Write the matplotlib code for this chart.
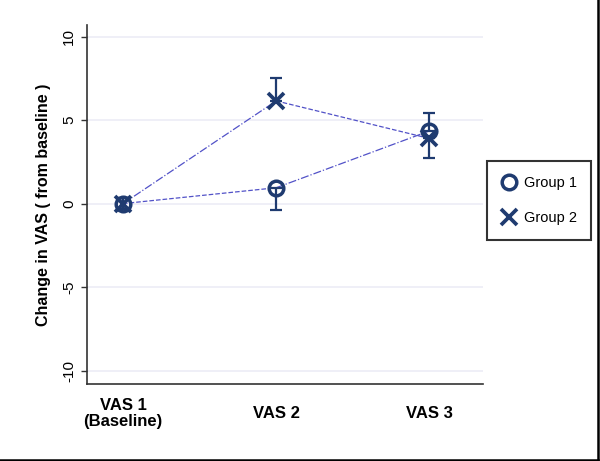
import matplotlib.pyplot as plt
from matplotlib.lines import Line2D
import numpy as np

plt.rcParams['font.family'] = ['Liberation Sans', 'DejaVu Sans']

# data
visits = ['VAS 1\n(Baseline)', 'VAS 2', 'VAS 3']
group1 = [0.0, 0.95, 4.35]
group2 = [0.0, 6.15, 3.9]
# one-sided error bars as drawn in the picture
g1_err_low = [0.35, 1.35, 0.0]
g1_err_high = [0.35, 0.0, 1.1]
g2_err_low = [0.35, 0.0, 1.15]
g2_err_high = [0.35, 1.35, 0.0]
g1_styles = ['--', '-.']
g2_styles = ['-.', '--']
yticks = [-10, -5, 0, 5, 10]

navy = '#1f3b70'
linec = '#5252c8'

fig = plt.figure(figsize=(6, 4.61), dpi=100)
ax = fig.add_axes([0.145, 0.167, 0.66, 0.779])
x = np.arange(1, len(visits) + 1)

# connecting lines, segment by segment
for vals, styles in [(group1, g1_styles), (group2, g2_styles)]:
    for i, ls in enumerate(styles):
        ax.plot(x[i:i + 2], vals[i:i + 2], ls=ls, color=linec, lw=0.9, zorder=2)

ax.errorbar(x, group1, yerr=[g1_err_low, g1_err_high], fmt='none', ecolor=navy,
            elinewidth=1.6, capsize=4, capthick=1.6, zorder=3)
ax.errorbar(x, group2, yerr=[g2_err_low, g2_err_high], fmt='none', ecolor=navy,
            elinewidth=1.6, capsize=4, capthick=1.6, zorder=3)
ax.plot(x, group1, 'o', ms=10.5, mfc='none', mec=navy, mew=2.5, zorder=4, label='Group 1')
ax.plot(x, group2, 'x', ms=11.5, mec=navy, mew=2.7, zorder=4, label='Group 2')

ax.set_xlim(0.765, 3.35)
ax.set_ylim(-10.8, 10.7)
ax.set_yticks(yticks)
ax.set_yticklabels([str(t) for t in yticks], rotation=90, va='center', fontsize=11)
ax.set_xticks(x)
ax.set_xticklabels(visits, fontsize=12, fontweight='bold', va='center', linespacing=1.1)
ax.tick_params(axis='x', length=0, pad=21)
ax.tick_params(axis='y', length=4, width=1, color='#333333', pad=4)
ax.yaxis.grid(True, color='#ececf6', lw=1.2)
ax.set_axisbelow(True)
for s in ['top', 'right']:
    ax.spines[s].set_visible(False)
for s in ['left', 'bottom']:
    ax.spines[s].set_color('#333333')
    ax.spines[s].set_linewidth(1.2)
ax.set_ylabel('Change in VAS ( from baseline )', fontsize=11.5, fontweight='bold', labelpad=8)

leg = ax.legend(loc='center', bbox_to_anchor=(0.899, 0.565), bbox_transform=fig.transFigure,
                fancybox=False, edgecolor='black', fontsize=10.5, borderpad=1.0,
                labelspacing=1.45, handlelength=1.0, handletextpad=0.5, borderaxespad=0)
leg.get_frame().set_linewidth(1.5)

# outer frame lines on the right and bottom
fig.add_artist(Line2D([0.997, 0.997], [0.003, 1.0], transform=fig.transFigure, color='black', lw=1.8))
fig.add_artist(Line2D([0.0, 0.997], [0.003, 0.003], transform=fig.transFigure, color='black', lw=1.8))

fig.savefig('out.png', dpi=100)
